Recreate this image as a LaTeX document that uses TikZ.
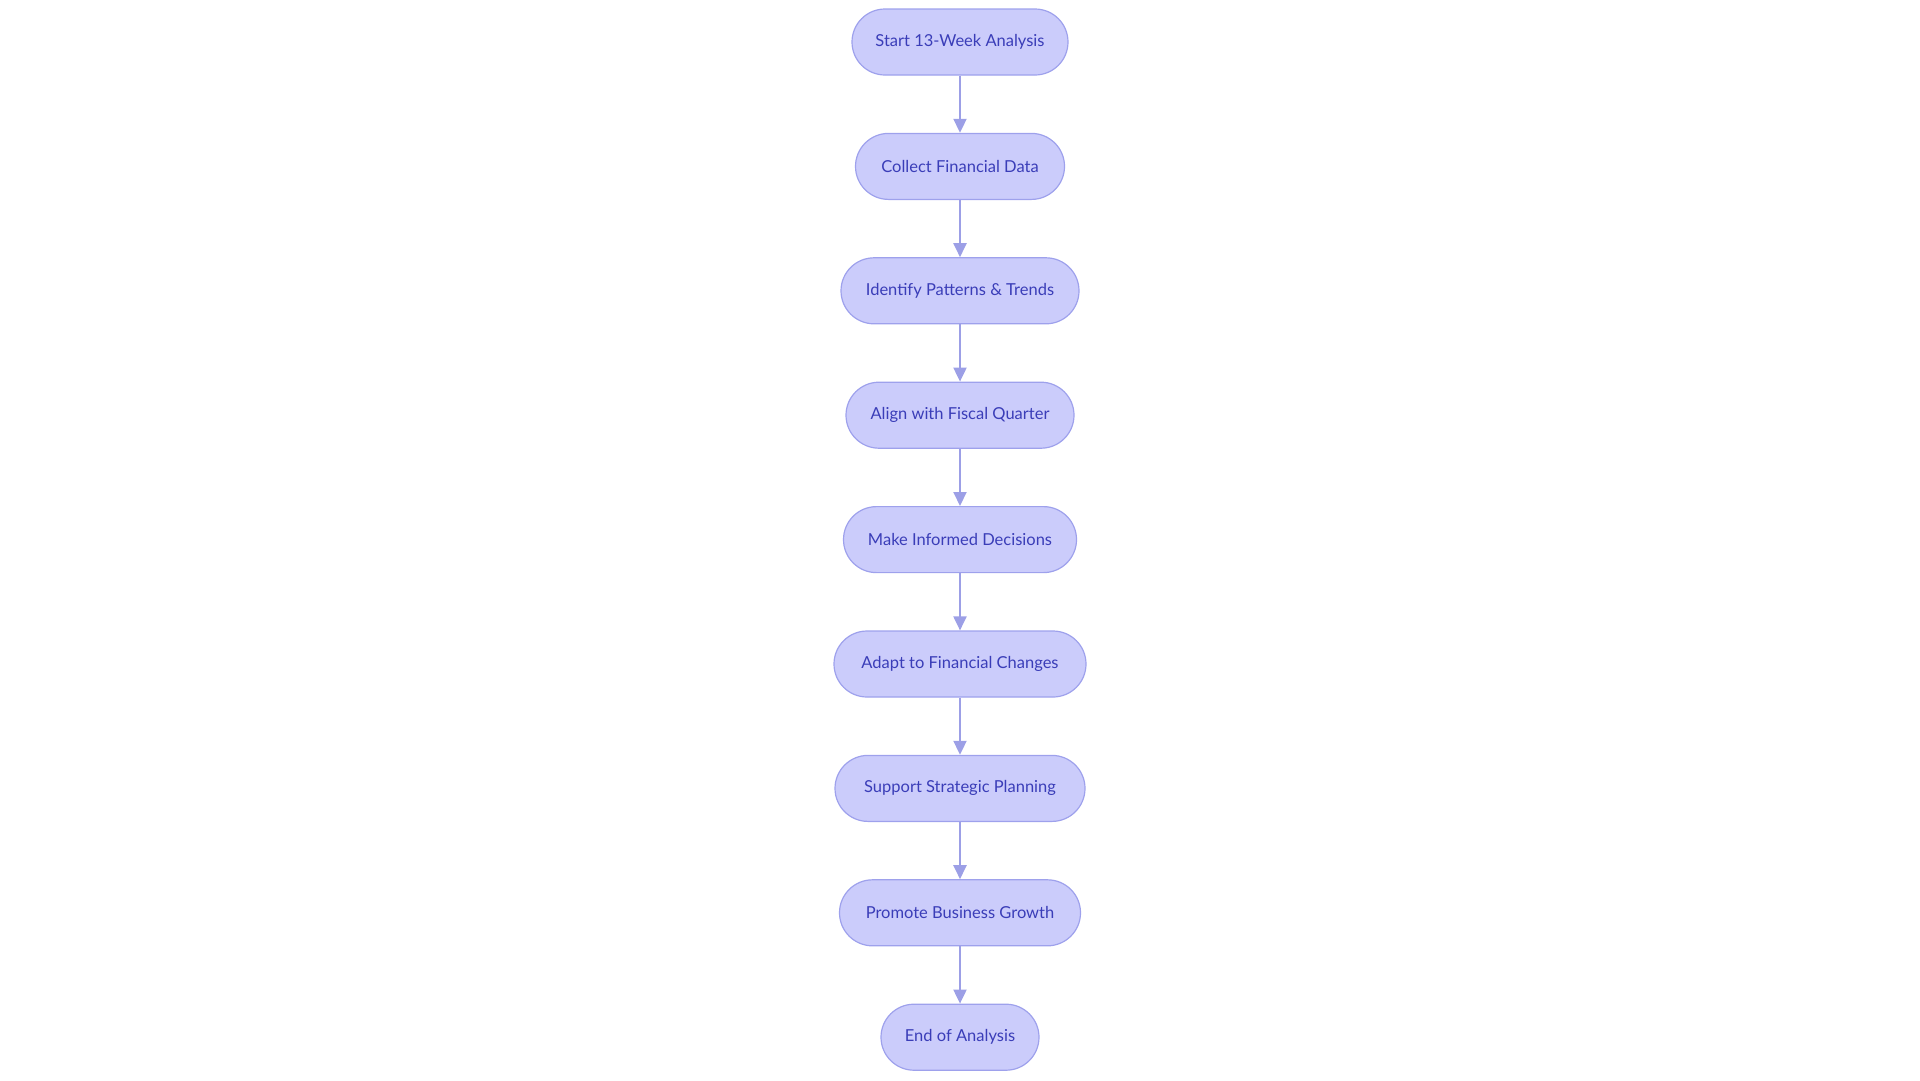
\documentclass[tikz,border=0pt]{standalone}
\usepackage{fontspec}
\setmainfont{Lato}
\usetikzlibrary{arrows.meta,positioning}
\definecolor{nodefill}{HTML}{CBCCFB}
\definecolor{nodedraw}{HTML}{9EA1EC}
\definecolor{nodetext}{HTML}{3A3DB8}
\definecolor{edgecol}{HTML}{9C9FE6}
\tikzset{
  flowbox/.style={rounded rectangle, draw=nodedraw, fill=nodefill, line width=1.2pt,
    text=nodetext, font=\fontsize{16.5}{19}\selectfont, minimum height=66pt, inner xsep=0pt, anchor=center},
  flowarrow/.style={draw=edgecol, line width=2pt, -{Triangle[width=13pt,length=14pt]}}
}
\usetikzlibrary{shapes.misc}
\begin{document}
\begin{tikzpicture}[x=1pt,y=1pt]
\useasboundingbox (0,0) rectangle (1920,-1080);
\node[flowbox, minimum width=216pt] (n1) at (960,-42) {Start 13-Week Analysis};
\node[flowbox, minimum width=209pt] (n2) at (960,-166.4) {Collect Financial Data};
\node[flowbox, minimum width=238pt] (n3) at (960,-290.8) {Identify Patterns \& Trends};
\node[flowbox, minimum width=228pt] (n4) at (960,-415.2) {Align with Fiscal Quarter};
\node[flowbox, minimum width=233pt] (n5) at (960,-539.6) {Make Informed Decisions};
\node[flowbox, minimum width=252pt] (n6) at (960,-664.0) {Adapt to Financial Changes};
\node[flowbox, minimum width=250pt] (n7) at (960,-788.4) {Support Strategic Planning};
\node[flowbox, minimum width=241pt] (n8) at (960,-912.8) {Promote Business Growth};
\node[flowbox, minimum width=158pt] (n9) at (960,-1037.2) {End of Analysis};
\foreach \a/\b in {n1/n2,n2/n3,n3/n4,n4/n5,n5/n6,n6/n7,n7/n8,n8/n9}
  \draw[flowarrow] (\a.south) -- (\b.north);
\end{tikzpicture}
\end{document}
